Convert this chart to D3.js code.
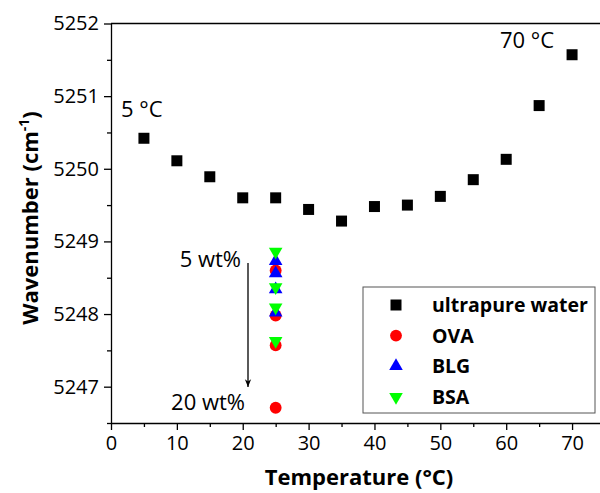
<!DOCTYPE html>
<meta charset="utf-8">
<style>
body { margin: 0; background: #fff; }
text { font-family: "Open Sans", sans-serif; fill: #000; }
.tick text { font-size: 20px; }
.axis path, .axis line { stroke: #000; stroke-width: 1.3px; }
.lbl { font-size: 22px; }
.axtitle { font-size: 22px; font-weight: bold; }
.legtext { font-size: 19.5px; font-weight: bold; }
</style>
<body>
<script src="https://cdn.jsdelivr.net/npm/d3@7"></script>
<script>

var W = 600, H = 493;

// ultrapure water, temperature sweep
var waterTemp = [5, 10, 15, 20, 25, 30, 35, 40, 45, 50, 55, 60, 65, 70];
var waterWave = [5250.42, 5250.11, 5249.89, 5249.60, 5249.60, 5249.44, 5249.28,
                 5249.48, 5249.50, 5249.62, 5249.85, 5250.13, 5250.87, 5251.57];

// proteins at 25 C, 5 -> 20 wt%
var proteinTemp = 25;
var ovaWave = [5248.60, 5247.98, 5247.57, 5246.71];
var blgWave = [5248.73, 5248.56, 5248.34, 5248.02];
var bsaWave = [5248.86, 5248.37, 5248.09, 5247.63];

var xTicks = [0, 10, 20, 30, 40, 50, 60, 70];
var yTicks = [5247, 5248, 5249, 5250, 5251, 5252];

var legendNames = ['ultrapure water', 'OVA', 'BLG', 'BSA'];

var svg = d3.select('body').append('svg')
    .attr('width', W)
    .attr('height', H);

var x = d3.scaleLinear().domain([0, 75]).range([111, 605]);
var y = d3.scaleLinear().domain([5246.5, 5252]).range([423, 23.5]);

// minor ticks first
svg.append('g')
    .attr('class', 'axis')
    .attr('transform', 'translate(0,' + y.range()[0] + ')')
    .call(d3.axisBottom(x).tickValues(d3.range(5, 75, 10)).tickSize(4).tickFormat(''))
    .select('.domain').remove();
svg.append('g')
    .attr('class', 'axis')
    .attr('transform', 'translate(' + x.range()[0] + ',0)')
    .call(d3.axisLeft(y).tickValues(d3.range(5246.5, 5252, 1)).tickSize(4).tickFormat(''))
    .select('.domain').remove();

var xAxis = svg.append('g')
    .attr('class', 'axis')
    .attr('transform', 'translate(0,' + y.range()[0] + ')')
    .call(d3.axisBottom(x).tickValues(xTicks).tickSize(7).tickSizeOuter(0).tickPadding(6).tickFormat(d3.format('d')));

var yAxis = svg.append('g')
    .attr('class', 'axis')
    .attr('transform', 'translate(' + x.range()[0] + ',0)')
    .call(d3.axisLeft(y).tickValues(yTicks).tickSize(7).tickSizeOuter(0).tickPadding(5).tickFormat(d3.format('d')));

// top frame line
svg.append('line')
    .attr('x1', x.range()[0]).attr('y1', y.range()[1])
    .attr('x2', W).attr('y2', y.range()[1])
    .attr('stroke', '#000').attr('stroke-width', 1.3);

svg.append('text')
    .attr('class', 'axtitle')
    .attr('x', 359).attr('y', 485)
    .attr('text-anchor', 'middle')
    .text('Temperature (°C)');

var ylab = svg.append('text')
    .attr('class', 'axtitle')
    .attr('transform', 'translate(38,218) rotate(-90)')
    .attr('text-anchor', 'middle');
ylab.append('tspan').text('Wavenumber (cm');
ylab.append('tspan').attr('dy', -9).style('font-size', '14px').text('-1');
ylab.append('tspan').attr('dy', 9).text(')');

var sym = {
  square: d3.symbol().type(d3.symbolSquare).size(121),
  circle: d3.symbol().type(d3.symbolCircle).size(110),
  up: d3.symbol().type(d3.symbolTriangle).size(80),
  down: d3.symbol().type(d3.symbolTriangle).size(80)
};

function drawSeries(xs, ys, shape, color) {
  svg.append('g').selectAll('path')
    .data(ys)
    .enter().append('path')
    .attr('d', sym[shape])
    .attr('fill', color)
    .attr('transform', function(d, i) {
      var xv = Array.isArray(xs) ? xs[i] : xs;
      return 'translate(' + x(xv) + ',' + y(d) + ')' + (shape === 'down' ? ' rotate(180)' : '');
    });
}

drawSeries(waterTemp, waterWave, 'square', '#000');
drawSeries(proteinTemp, ovaWave, 'circle', '#ff0000');
drawSeries(proteinTemp, blgWave, 'up', '#0000ff');
drawSeries(proteinTemp, bsaWave, 'down', '#00ff00');

// annotations
svg.append('text').attr('class', 'lbl').attr('x', 121).attr('y', 117).text('5 °C');
svg.append('text').attr('class', 'lbl').attr('x', 500).attr('y', 48).text('70 °C');
svg.append('text').attr('class', 'lbl').attr('x', 241).attr('y', 267).attr('text-anchor', 'end').text('5 wt%');
svg.append('text').attr('class', 'lbl').attr('x', 245).attr('y', 410).attr('text-anchor', 'end').text('20 wt%');

svg.append('defs').append('marker')
    .attr('id', 'arr')
    .attr('viewBox', '0 0 10 10')
    .attr('refX', 10).attr('refY', 5)
    .attr('markerWidth', 6).attr('markerHeight', 8)
    .attr('orient', 'auto')
  .append('path')
    .attr('d', 'M0,1 L10,5 L0,9 L3,5 Z')
    .attr('fill', '#000');
svg.append('line')
    .attr('x1', 248).attr('y1', 263)
    .attr('x2', 248).attr('y2', 387)
    .attr('stroke', '#000').attr('stroke-width', 1.3)
    .attr('marker-end', 'url(#arr)');

// legend
var legShapes = ['square', 'circle', 'up', 'down'];
var legColors = ['#000', '#ff0000', '#0000ff', '#00ff00'];
svg.append('rect')
    .attr('x', 363).attr('y', 287)
    .attr('width', 232).attr('height', 126)
    .attr('fill', '#fff').attr('stroke', '#555').attr('stroke-width', 1);
var leg = svg.append('g').selectAll('g')
    .data(legendNames)
    .enter().append('g')
    .attr('transform', function(d, i) { return 'translate(396,' + (305 + i * 30.6) + ')'; });
leg.append('path')
    .attr('d', function(d, i) { return sym[legShapes[i]](); })
    .attr('fill', function(d, i) { return legColors[i]; })
    .attr('transform', function(d, i) { return legShapes[i] === 'down' ? 'rotate(180)' : null; });
leg.append('text')
    .attr('class', 'legtext')
    .attr('x', 36).attr('y', 7)
    .text(function(d) { return d; });

</script>
